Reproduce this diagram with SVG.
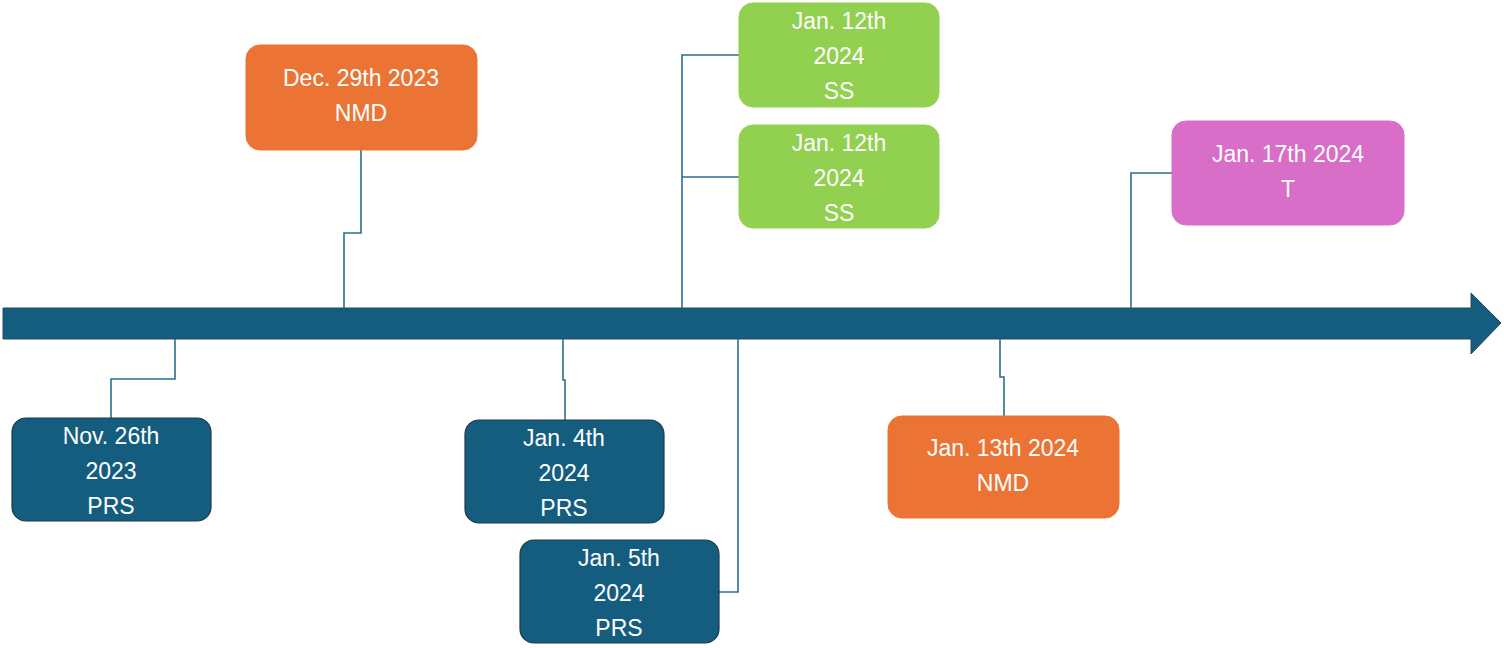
<svg xmlns="http://www.w3.org/2000/svg" width="1504" height="648" viewBox="0 0 1504 648">
<style>
.b{stroke:#1f3a4a;stroke-width:1.2}
.p{fill:#155d7f}.o{fill:#eb7333;stroke:#eb7333}.g{fill:#92d050;stroke:#92d050}.k{fill:#d86ec8;stroke:#d86ec8}
text{font-family:"Liberation Sans",Arial,sans-serif;font-size:23px;fill:#fff;text-anchor:middle}
.c{fill:none;stroke:#2d6d8c;stroke-width:1.6}
</style>
<rect width="1504" height="648" fill="#fff"/>
<g id="axis"><polygon points="3,308 1471,308 1471,293 1501,323 1471,354 1471,339 3,339" fill="#155d7f" stroke="#2b4a5a" stroke-width="1"/></g>
<g id="connectors">
<polyline class="c" points="175,339 175,379 111,379 111,418"/>
<polyline class="c" points="361,150 361,233 344,233 344,308"/>
<polyline class="c" points="682,308 682,55 739,55"/>
<polyline class="c" points="682,177 739,177"/>
<polyline class="c" points="1131,308 1131,173 1172,173"/>
<polyline class="c" points="563,339 563,380 565,380 565,420"/>
<polyline class="c" points="738,339 738,592 719,592"/>
<polyline class="c" points="1000,339 1000,377 1004,377 1004,416"/>
</g>
<g id="n1"><rect class="b p" x="12" y="418" width="199" height="103" rx="14"/><text x="111" y="444">Nov. 26th</text><text x="111" y="479">2023</text><text x="111" y="514">PRS</text></g>
<g id="n2"><rect class="o" x="246" y="45" width="231" height="105" rx="14"/><text x="361" y="86">Dec. 29th 2023</text><text x="361" y="121">NMD</text></g>
<g id="n3"><rect class="g" x="739" y="3" width="200" height="104" rx="14"/><text x="839" y="29">Jan. 12th</text><text x="839" y="64">2024</text><text x="839" y="99">SS</text></g>
<g id="n4"><rect class="g" x="739" y="125" width="200" height="103" rx="14"/><text x="839" y="151">Jan. 12th</text><text x="839" y="186">2024</text><text x="839" y="221">SS</text></g>
<g id="n5"><rect class="k" x="1172" y="121" width="232" height="104" rx="14"/><text x="1288" y="162">Jan. 17th 2024</text><text x="1288" y="197">T</text></g>
<g id="n6"><rect class="b p" x="465" y="420" width="199" height="103" rx="14"/><text x="564" y="446">Jan. 4th</text><text x="564" y="481">2024</text><text x="564" y="516">PRS</text></g>
<g id="n7"><rect class="b p" x="520" y="540" width="199" height="103" rx="14"/><text x="619" y="566">Jan. 5th</text><text x="619" y="601">2024</text><text x="619" y="636">PRS</text></g>
<g id="n8"><rect class="o" x="888" y="416" width="231" height="102" rx="14"/><text x="1003" y="456">Jan. 13th 2024</text><text x="1003" y="491">NMD</text></g>
</svg>
